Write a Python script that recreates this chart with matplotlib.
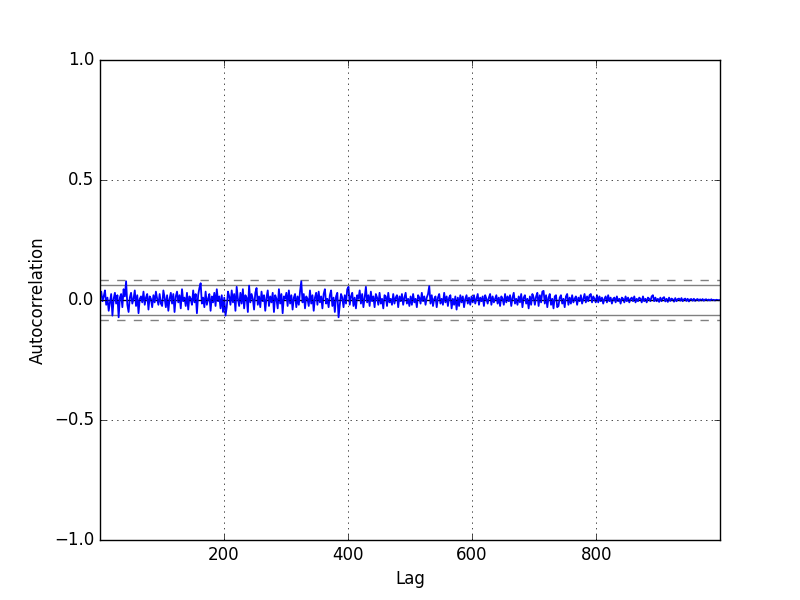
import numpy as np
import matplotlib
matplotlib.use("Agg")
import matplotlib.pyplot as plt

plt.style.use("classic")

# autocorrelation, in thousandths, every 2nd lag (1, 3, 5, ...)
acf_a = [20, 35, -5, 15, 40, -20, 10, -45, -10, 25,
         -65, 5, 30, -15, 20, -72, 10, 25, -30, 45,
         15, 78, -20, -50, 10, 30, -15, 5, 40, -25,
         20, -55, 5, 15, -10, 35, -20, 10, 25, -40,
         15, 5, -30, 20, -10, 35, 5, -20, 25, -15]
acf_b = [-25, 40, 10, -30, 20, -45, 5, 30, -15, 25,
         -50, 15, 35, -10, 20, -35, 45, -5, 10, -25,
         30, -40, 15, 5, -20, 40, -10, 25, -55, 20,
         50, 70, -15, 10, -30, 35, -20, 5, 25, -45,
         15, -10, 30, -25, 45, -5, 15, -35, 20, -50]
acf_c = [10, -65, -30, 35, 15, -20, 40, -10, 25, -45,
         55, 5, -25, 30, -15, 45, -35, 20, 10, -50,
         60, -10, 25, 5, -40, 30, 50, -20, 15, -30,
         35, -5, 20, -45, 10, 40, -25, 15, -10, 30,
         -50, 20, 5, -35, 45, -15, 25, -55, 15, 5]
acf_d = [30, -25, 40, -15, 20, -40, 10, 25, -30, 15,
         -20, 35, 78, -10, 25, -35, 15, 5, -25, 40,
         -15, 20, -45, 10, 30, -20, 35, -10, 15, -35,
         25, 45, -15, 5, -30, 20, 40, -25, 10, -50,
         15, 30, -72, -20, 25, 10, -30, 20, -15, 45]
acf_e = [55, -20, 15, 30, -25, 10, -35, 20, 5, 40,
         -15, 25, -30, 10, 55, -10, 20, -25, 35, -5,
         15, -30, 25, 10, -20, 30, -15, 5, -35, 20,
         15, -25, 30, -10, 5, -20, 25, -15, 10, 20,
         -30, 15, -5, 25, -20, 10, 30, -15, 5, -25]
acf_f = [15, -20, 25, -10, 5, -30, 20, 10, -15, 30,
         -5, 15, -20, 10, 25, 58, -15, 20, -25, 5,
         15, -30, 10, 25, -15, 5, -20, 30, -10, 15,
         -25, 10, 20, -35, 5, -20, 15, -40, 10, -25,
         20, -10, 15, -30, 5, 20, -15, 10, -20, 15]
acf_g = [-10, 20, -15, 5, 25, -20, 10, -5, 15, -25,
         20, 5, -15, 10, 25, -20, 15, -10, 5, 20,
         -15, 10, -25, 15, 5, -20, 25, -10, 15, -5,
         20, -25, 10, 30, -15, 5, -20, 15, -10, 25,
         -30, 10, 20, -15, 5, -35, 15, -20, 25, 10]
acf_h = [-20, 15, 30, -25, 20, -10, 35, 38, -15, 20,
         -30, 10, 25, -20, 5, -35, 15, 20, -30, -25,
         10, 20, -15, 5, -30, 15, 25, -20, 10, -15,
         20, -10, 5, 15, -20, 10, -5, 20, -15, 5,
         25, -10, 15, -5, 20, 25, -10, 15, 5, -10]
acf_i = [20, -10, 15, -5, 10, -15, 5, 15, -10, 20,
         -5, 10, -15, 5, 10, -10, 15, -5, 5, -15,
         10, 5, -10, 15, -5, 10, -10, 5, 10, -5,
         15, -10, 5, -5, 10, 5, -10, 15, -5, 5,
         -10, 10, 5, -5, 15, 20, -5, 10, -5, 5]
acf_j = [-8, 10, -5, 8, 12, -6, 5, -8, 10, -4,
         6, 3, -7, 8, -5, 4, 6, -3, 8, -5,
         3, 6, -4, 5, -6, 3, 4, -3, 5, -4,
         2, 4, -3, 3, -2, 4, -3, 2, 3, -2,
         2, -2, 3, -1, 1, -2, 1, 0, -1, 0]

n = 999
acf = np.array(acf_a + acf_b + acf_c + acf_d + acf_e + acf_f + acf_g + acf_h
               + acf_i + acf_j) / 1000.0
lags = 1 + 2 * np.arange(len(acf))

fig = plt.figure(figsize=(8, 6), dpi=100, facecolor="white")
ax = fig.add_subplot(111)

z95 = 1.959963984540054
z99 = 2.5758293035489004
ax.axhline(y=z99 / np.sqrt(n), linestyle="--", color="grey")
ax.axhline(y=z95 / np.sqrt(n), color="grey")
ax.axhline(y=0.0, color="black")
ax.axhline(y=-z95 / np.sqrt(n), color="grey")
ax.axhline(y=-z99 / np.sqrt(n), linestyle="--", color="grey")

ax.plot(lags, acf, color="b", linewidth=1.3)

ax.set_xlim(1, n)
ax.set_ylim(-1.0, 1.0)
ax.set_xticks([200, 400, 600, 800])
ax.set_xlabel("Lag")
ax.set_ylabel("Autocorrelation")
ax.grid(True)

fig.savefig("out.png", dpi=100, facecolor="white")
